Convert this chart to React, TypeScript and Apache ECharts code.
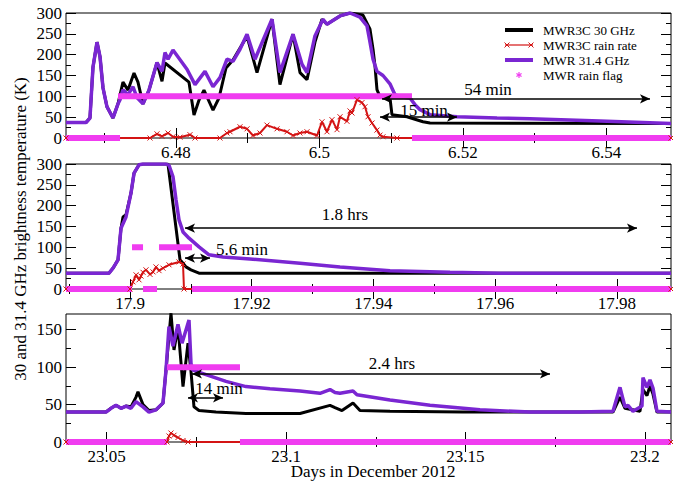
import React, { useEffect, useRef } from "react";
import * as echarts from "echarts";

const FONT = "Liberation Serif, Times New Roman, serif";
const BLACK = "#000000";
const RED = "#d41414";
const PURPLE = "#7a26d2";
const MAGENTA = "#f03cf0";

// ---------- Panel 1 : 6 December ----------
const p1Range = [6.46467, 6.54899];
const p1XMajor = [6.48, 6.5, 6.52, 6.54];
const p1XMinor = [6.47, 6.49, 6.51, 6.53];
const p1Black = [
  [6.46467, 37], [6.46746, 37], [6.46801, 48], [6.46843, 170], [6.46899, 230], [6.46941, 195],
  [6.46983, 120], [6.47038, 75], [6.47122, 48], [6.47192, 82], [6.47261, 134], [6.47331, 115],
  [6.47415, 156], [6.4747, 134], [6.4754, 82], [6.47624, 115], [6.47735, 181], [6.47805, 136],
  [6.47847, 180], [6.48181, 134], [6.48251, 55], [6.48321, 91], [6.4839, 115], [6.48516, 67],
  [6.48599, 96], [6.48697, 168], [6.48794, 187], [6.4899, 244], [6.49129, 157], [6.49338, 285],
  [6.49449, 128], [6.49631, 249], [6.49728, 157], [6.49826, 140], [6.49937, 230], [6.50035, 285],
  [6.50104, 273], [6.50286, 293], [6.50425, 300], [6.50606, 295], [6.50704, 261], [6.50746, 213],
  [6.50774, 172], [6.50801, 116], [6.50843, 99], [6.50982, 97], [6.5101, 56], [6.51219, 51],
  [6.51442, 39], [6.5154, 36], [6.54899, 35],
];
const p1Red = [
  [6.46467, 0], [6.47638, 0], [6.47735, 10], [6.47805, 4], [6.47889, 12], [6.47958, 3],
  [6.48056, 2], [6.48195, 8], [6.48265, 0], [6.48613, 0], [6.48711, 12], [6.48753, 15],
  [6.48892, 27], [6.4899, 22], [6.49073, 6], [6.49171, 12], [6.49268, 31], [6.49408, 22],
  [6.49547, 15], [6.49631, 6], [6.49728, 12], [6.49826, 15], [6.49965, 6], [6.50035, 39],
  [6.50104, 15], [6.50174, 44], [6.50244, 20], [6.50286, 51], [6.50383, 40], [6.50425, 65],
  [6.50453, 60], [6.50523, 92], [6.50592, 85], [6.50634, 75], [6.50676, 51], [6.50732, 36],
  [6.50801, 19], [6.50843, 7], [6.50885, 3], [6.5108, 0], [6.54899, 0],
];
const p1Purple = [
  [6.46467, 37], [6.46746, 37], [6.46801, 48], [6.46843, 170], [6.46899, 230], [6.46941, 195],
  [6.46983, 120], [6.47038, 75], [6.47122, 48], [6.47192, 82], [6.4722, 92], [6.47261, 116],
  [6.47331, 104], [6.47401, 123], [6.47456, 97], [6.4754, 82], [6.47624, 115], [6.47735, 181],
  [6.47805, 160], [6.47847, 205], [6.47889, 189], [6.47958, 211], [6.48153, 165], [6.48265, 128],
  [6.48404, 160], [6.48516, 123], [6.48613, 145], [6.48711, 189], [6.48794, 184], [6.48892, 213],
  [6.4899, 249], [6.49101, 189], [6.49338, 285], [6.49449, 157], [6.49631, 249], [6.49756, 177],
  [6.49826, 157], [6.49937, 245], [6.50049, 285], [6.50104, 273], [6.50286, 293], [6.50425, 300],
  [6.50564, 290], [6.50662, 269], [6.50704, 230], [6.50746, 189], [6.50801, 160], [6.50885, 150],
  [6.50982, 130], [6.51052, 104], [6.51122, 99], [6.51261, 96], [6.51331, 80], [6.51401, 68],
  [6.5154, 56], [6.51916, 51], [6.52474, 48], [6.52934, 46], [6.53909, 41], [6.54899, 35],
];
const p1Flag = [
  [6.46467, 0], [6.4722, 0], [6.4722, null],
  [6.47192, 100], [6.51289, 100], [6.51289, null],
  [6.51289, 0], [6.54899, 0],
];
// arrows: [from, to, level]
const p1Arrows = [[6.50871, 6.54606, 94], [6.50843, 6.51916, 50]];
const p1Notes = [["54 min", 488, 89], ["15 min", 424, 110]];

// ---------- Panel 2 : 17 December ----------
const p2Range = [17.88948, 17.98891];
const p2XMajor = [17.9, 17.92, 17.94, 17.96, 17.98];
const p2XMinor = [17.89, 17.91, 17.93, 17.95, 17.97];
const p2Black = [
  [17.88948, 38], [17.89655, 38], [17.89721, 50], [17.89803, 70], [17.89852, 146], [17.89885, 173],
  [17.89934, 178], [17.90016, 230], [17.90066, 278], [17.90148, 298], [17.90214, 300], [17.90624, 300],
  [17.90822, 70], [17.90871, 62], [17.9092, 53], [17.91002, 46], [17.91134, 38], [17.98891, 38],
];
const p2Red = [
  [17.88948, 0], [17.9, 0], [17.90049, 17], [17.90099, 34], [17.90148, 22], [17.90181, 31],
  [17.90214, 40], [17.90263, 46], [17.90329, 35], [17.90378, 41], [17.90427, 53], [17.90477, 44],
  [17.90542, 50], [17.90641, 58], [17.90805, 65], [17.90871, 60], [17.90887, 0], [17.98891, 0],
];
const p2Purple = [
  [17.88948, 38], [17.89655, 38], [17.89721, 50], [17.89803, 70], [17.89852, 146], [17.89934, 173],
  [17.90016, 230], [17.90066, 278], [17.90148, 298], [17.90214, 300], [17.90592, 300], [17.90641, 297],
  [17.90707, 269], [17.90756, 214], [17.90805, 166], [17.90871, 137], [17.9097, 122], [17.91134, 101],
  [17.91298, 82], [17.91528, 77], [17.91972, 72], [17.92794, 62], [17.93451, 53], [17.94273, 44],
  [17.95259, 40], [17.96081, 38], [17.98891, 38],
];
const p2Flag = [
  [17.88948, 0], [17.90033, 0], [17.90033, null],
  [17.90033, 100], [17.90214, 100], [17.90214, null],
  [17.90214, 0], [17.90444, 0], [17.90444, null],
  [17.90477, 100], [17.91019, 100], [17.91019, null],
  [17.91019, 0], [17.98891, 0],
];
const p2Arrows = [[17.90904, 17.98332, 146], [17.90904, 17.91315, 74]];
const p2Notes = [["1.8 hrs", 345, 214], ["5.6 min", 242, 249]];

// ---------- Panel 3 : 23 December ----------
const p3Range = [23.03866, 23.20728];
const p3XMajor = [23.05, 23.1, 23.15, 23.2];
const p3XMinor = [23.075, 23.125, 23.175];
const p3Black = [
  [23.03866, 40], [23.04981, 40], [23.0512, 45], [23.05259, 49], [23.05399, 45], [23.05538, 48],
  [23.05677, 47], [23.05817, 60], [23.05872, 67], [23.06012, 50], [23.06179, 42], [23.06374, 43],
  [23.06569, 52], [23.06653, 96], [23.06792, 172], [23.06876, 123], [23.06987, 154], [23.07127, 74],
  [23.07266, 132], [23.0735, 94], [23.07433, 47], [23.07573, 42], [23.08046, 40], [23.08882, 38],
  [23.10388, 38], [23.11224, 49], [23.11363, 46], [23.11558, 42], [23.11865, 52], [23.1206, 42],
  [23.12896, 41], [23.1493, 40], [23.16519, 40], [23.19111, 40], [23.19306, 60], [23.19446, 45],
  [23.19864, 41], [23.19947, 70], [23.20059, 62], [23.20142, 75], [23.20226, 64], [23.20337, 40],
  [23.20728, 40],
];
const p3Red = [
  [23.03866, 0], [23.06681, 0], [23.06736, 8], [23.06792, 12], [23.06876, 9], [23.06987, 6],
  [23.07127, 2], [23.07266, 0], [23.20728, 0],
];
const p3Purple = [
  [23.03866, 40], [23.04981, 40], [23.0512, 45], [23.05259, 49], [23.05399, 45], [23.05538, 48],
  [23.05677, 45], [23.05817, 54], [23.06012, 47], [23.06179, 40], [23.06374, 43], [23.06569, 52],
  [23.06653, 96], [23.06736, 154], [23.06848, 128], [23.06987, 157], [23.07099, 132], [23.07294, 163],
  [23.0735, 105], [23.07405, 96], [23.07768, 90], [23.08325, 81], [23.08882, 74], [23.09551, 71],
  [23.10388, 68], [23.10945, 65], [23.11224, 70], [23.11363, 66], [23.11502, 65], [23.11865, 68],
  [23.11976, 63], [23.12896, 56], [23.14011, 49], [23.15404, 43], [23.16798, 40], [23.18191, 40],
  [23.19111, 41], [23.19306, 73], [23.19446, 47], [23.19529, 49], [23.19669, 41], [23.19919, 48],
  [23.19947, 86], [23.20059, 73], [23.20142, 83], [23.20226, 72], [23.20337, 41], [23.20728, 40],
];
const p3Flag = [
  [23.03866, 0], [23.06681, 0], [23.06681, null],
  [23.06681, 100], [23.08715, 100], [23.08715, null],
  [23.08715, 0], [23.20728, 0],
];
const p3Arrows = [[23.07377, 23.17355, 91], [23.07266, 23.08242, 59]];
const p3Notes = [["2.4 hrs", 392, 363], ["14 min", 219, 388]];

// ---------- shared ----------
const yMajor300 = [0, 50, 100, 150, 200, 250, 300];
const yMinor300 = [25, 75, 125, 175, 225, 275];
const yMajor171 = [0, 50, 100, 150];
const yMinor171 = [25, 75, 125];

const legendItems = [
  { label: "MWR3C 30 GHz", kind: "thick", color: BLACK },
  { label: "MWR3C rain rate", kind: "cross", color: RED },
  { label: "MWR 31.4 GHz", kind: "thick", color: PURPLE },
  { label: "MWR rain flag", kind: "star", color: MAGENTA },
];

const fmt = (v: number) => String(Number(Number(v).toFixed(4)));
const CROSS = "path://M0,0L10,10M10,0L0,10";

function buildOption() {
  const panels = [
    { top: 13, height: 125, range: p1Range, xMajor: p1XMajor, xMinor: p1XMinor, yMax: 300, yMajor: yMajor300, yMinor: yMinor300, black: p1Black, red: p1Red, purple: p1Purple, flag: p1Flag, arrows: p1Arrows },
    { top: 164, height: 125, range: p2Range, xMajor: p2XMajor, xMinor: p2XMinor, yMax: 300, yMajor: yMajor300, yMinor: yMinor300, black: p2Black, red: p2Red, purple: p2Purple, flag: p2Flag, arrows: p2Arrows },
    { top: 314, height: 128, range: p3Range, xMajor: p3XMajor, xMinor: p3XMinor, yMax: 171, yMajor: yMajor171, yMinor: yMinor171, black: p3Black, red: p3Red, purple: p3Purple, flag: p3Flag, arrows: p3Arrows },
  ];
  const tickLine = { color: "#000", width: 1 };
  const rich = { s: { color: "#000", fontFamily: FONT, fontSize: 17, fontWeight: "normal" } };
  const labelStyle = { color: "#000", fontFamily: FONT, fontSize: 17, fontWeight: "normal", rich };

  const grid: any[] = [];
  const xAxis: any[] = [];
  const yAxis: any[] = [];
  const series: any[] = [];

  panels.forEach((p, g) => {
    grid.push({
      left: 66, right: 2, top: p.top, height: p.height, show: true,
      borderColor: "#000", borderWidth: 1, backgroundColor: "transparent",
      containLabel: false, outerBoundsMode: "none",
    });
    const mkX = (pos: string, major: boolean, label: boolean) => ({
      type: "value", gridIndex: g, position: pos, min: p.range[0], max: p.range[1],
      axisLine: { show: false }, splitLine: { show: false },
      axisTick: { show: true, inside: true, length: major ? 10 : 5, lineStyle: tickLine, customValues: major ? p.xMajor : p.xMinor },
      axisLabel: label ? { show: true, customValues: p.xMajor, formatter: (v: number) => `{s|${fmt(v)}}`, margin: 6, ...labelStyle } : { show: false },
    });
    const mkY = (pos: string, major: boolean, label: boolean) => ({
      type: "value", gridIndex: g, position: pos, min: 0, max: p.yMax,
      axisLine: { show: false }, splitLine: { show: false },
      axisTick: { show: true, inside: true, length: major ? 10 : 5, lineStyle: tickLine, customValues: major ? p.yMajor : p.yMinor },
      axisLabel: label ? { show: true, customValues: p.yMajor, formatter: (v: number) => `{s|${fmt(v)}}`, margin: 4, ...labelStyle } : { show: false },
    });
    xAxis.push(mkX("bottom", true, true), mkX("bottom", false, false), mkX("top", true, false), mkX("top", false, false));
    yAxis.push(mkY("left", true, true), mkY("left", false, false), mkY("right", true, false), mkY("right", false, false));

    const ai = g * 4;
    const base = { type: "line", xAxisIndex: ai, yAxisIndex: ai, symbol: "none", showSymbol: false, silent: true, clip: true };
    series.push({ ...base, name: "MWR3C 30 GHz", data: p.black, lineStyle: { color: BLACK, width: 3 }, itemStyle: { color: BLACK } });
    series.push({
      ...base, name: "MWR3C rain rate", data: p.red,
      symbol: CROSS, showSymbol: true, symbolSize: 5,
      lineStyle: { color: RED, width: 2 },
      itemStyle: { color: "none", borderColor: RED, borderWidth: 1 },
    });
    series.push({ ...base, name: "MWR 31.4 GHz", data: p.purple, lineStyle: { color: PURPLE, width: 3.5 }, itemStyle: { color: PURPLE } });
    series.push({
      ...base, name: "MWR rain flag", data: p.flag, connectNulls: false,
      lineStyle: { color: MAGENTA, width: 6 }, itemStyle: { color: MAGENTA },
      markLine: {
        silent: true, animation: false, symbol: ["arrow", "arrow"], symbolSize: [7, 10],
        lineStyle: { color: "#000", width: 1.5, type: "solid" },
        label: { show: false }, emphasis: { disabled: true },
        data: p.arrows.map((a) => [{ coord: [a[0], a[2]] }, { coord: [a[1], a[2]] }]),
      },
    });
  });

  const textEl = (text: string, x: number, y: number, size: number, extra: any = {}) => ({
    type: "text", x, y, z: 100, silent: true, ...extra,
    style: { text, fill: "#000", fontFamily: FONT, fontSize: size, align: "center", verticalAlign: "middle", textAlign: "center", textVerticalAlign: "middle" },
  });

  const graphic: any[] = [];
  graphic.push(textEl("30 and 31.4 GHz brightness temperature (K)", 20, 229, 17, { rotation: Math.PI / 2 }));
  graphic.push(textEl("Days in December 2012", 373, 471, 17));
  [...p1Notes, ...p2Notes, ...p3Notes].forEach((n: any) => graphic.push(textEl(n[0], n[1], n[2], 17)));

  // legend
  legendItems.forEach((it, i) => {
    const y = 30 + i * 15;
    const x1 = 505, x2 = 533;
    if (it.kind === "thick") {
      graphic.push({ type: "line", z: 100, silent: true, shape: { x1, y1: y, x2, y2: y }, style: { stroke: it.color, lineWidth: 4 } });
    } else if (it.kind === "cross") {
      graphic.push({ type: "line", z: 100, silent: true, shape: { x1, y1: y, x2, y2: y }, style: { stroke: it.color, lineWidth: 1.2 } });
      [x1 + 2, x2 - 2].forEach((cx) => {
        graphic.push({ type: "line", z: 100, silent: true, shape: { x1: cx - 2.5, y1: y - 2.5, x2: cx + 2.5, y2: y + 2.5 }, style: { stroke: it.color, lineWidth: 1 } });
        graphic.push({ type: "line", z: 100, silent: true, shape: { x1: cx - 2.5, y1: y + 2.5, x2: cx + 2.5, y2: y - 2.5 }, style: { stroke: it.color, lineWidth: 1 } });
      });
    } else {
      const cx = 519;
      const r = 3;
      [0, Math.PI / 3, (2 * Math.PI) / 3].forEach((ang) => {
        graphic.push({ type: "line", z: 100, silent: true, shape: { x1: cx - r * Math.sin(ang), y1: y - r * Math.cos(ang), x2: cx + r * Math.sin(ang), y2: y + r * Math.cos(ang) }, style: { stroke: it.color, lineWidth: 1.2 } });
      });
    }
    graphic.push({
      type: "text", x: 543, y, z: 100, silent: true,
      style: { text: it.label, fill: "#000", fontFamily: FONT, fontSize: 13, align: "left", verticalAlign: "middle", textAlign: "left", textVerticalAlign: "middle" },
    });
  });

  return {
    animation: false,
    backgroundColor: "#ffffff",
    textStyle: { fontFamily: FONT, color: "#000" },
    grid,
    xAxis,
    yAxis,
    series,
    graphic,
  };
}

export default function App() {
  const ref = useRef<HTMLDivElement | null>(null);
  useEffect(() => {
    if (!ref.current) return;
    const chart = echarts.init(ref.current, undefined, { renderer: "svg" });
    chart.setOption(buildOption() as any);
    return () => chart.dispose();
  }, []);
  return (
    <div
      ref={ref}
      style={{ position: "absolute", left: 0, top: 0, width: 673, height: 482, background: "#fff" }}
    />
  );
}
